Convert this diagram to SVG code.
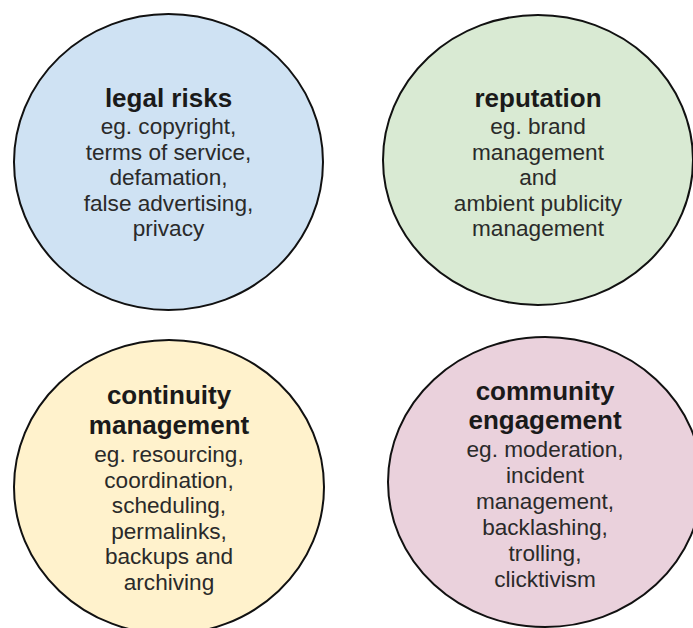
<svg xmlns="http://www.w3.org/2000/svg" width="693" height="628" viewBox="0 0 693 628">
  <style>
    .bubble { stroke: #111; stroke-width: 2; }
    .title { font-family: "Liberation Sans", Arial, sans-serif; font-weight: bold; font-size: 26px; fill: #1a1a1a; text-anchor: middle; }
    .body { font-family: "Liberation Sans", Arial, sans-serif; font-size: 22.6px; fill: #2a2a2a; text-anchor: middle; }
  </style>
  <rect width="693" height="628" fill="#ffffff"/>

  <g id="legal-risks">
    <ellipse class="bubble" cx="168.5" cy="162" rx="154.5" ry="148" fill="#cfe2f3"/>
    <text class="title" x="168.5" y="107">legal risks</text>
    <text class="body" x="168.5" y="134">eg. copyright,</text>
    <text class="body" x="168.5" y="159.5">terms of service,</text>
    <text class="body" x="168.5" y="185">defamation,</text>
    <text class="body" x="168.5" y="210.5">false advertising,</text>
    <text class="body" x="168.5" y="236">privacy</text>
  </g>

  <g id="reputation">
    <ellipse class="bubble" cx="538" cy="160" rx="155" ry="145" fill="#d9ead3"/>
    <text class="title" x="538" y="107">reputation</text>
    <text class="body" x="538" y="134">eg. brand</text>
    <text class="body" x="538" y="159.5">management</text>
    <text class="body" x="538" y="185">and</text>
    <text class="body" x="538" y="210.5">ambient publicity</text>
    <text class="body" x="538" y="236">management</text>
  </g>

  <g id="continuity-management">
    <ellipse class="bubble" cx="169" cy="487" rx="155" ry="147" fill="#fff2cc"/>
    <text class="title" x="169" y="404">continuity</text>
    <text class="title" x="169" y="434">management</text>
    <text class="body" x="169" y="462">eg. resourcing,</text>
    <text class="body" x="169" y="487.5">coordination,</text>
    <text class="body" x="169" y="513">scheduling,</text>
    <text class="body" x="169" y="538.5">permalinks,</text>
    <text class="body" x="169" y="564">backups and</text>
    <text class="body" x="169" y="589.5">archiving</text>
  </g>

  <g id="community-engagement">
    <ellipse class="bubble" cx="545" cy="482" rx="157" ry="145" fill="#ead1dc"/>
    <text class="title" x="545" y="400">community</text>
    <text class="title" x="545" y="429">engagement</text>
    <text class="body" x="545" y="457">eg. moderation,</text>
    <text class="body" x="545" y="483">incident</text>
    <text class="body" x="545" y="509">management,</text>
    <text class="body" x="545" y="535">backlashing,</text>
    <text class="body" x="545" y="561">trolling,</text>
    <text class="body" x="545" y="587">clicktivism</text>
  </g>

  <g id="connectors"/>
</svg>
